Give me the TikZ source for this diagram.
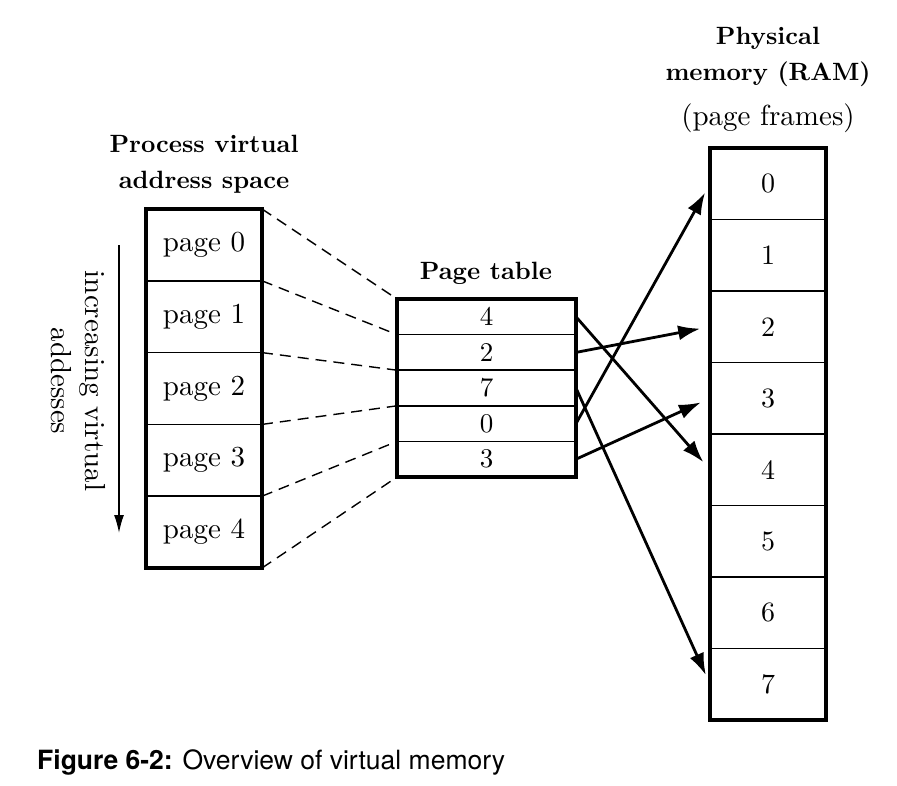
\documentclass[tikz,border=0pt]{standalone}
\usepackage{fontspec}
\setmainfont{lmroman10-regular}[Extension=.otf, BoldFont=lmroman10-bold]
\newfontfamily\capfont{TeX Gyre Heros}
\usetikzlibrary{arrows.meta}

\begin{document}
\begin{tikzpicture}[x=1pt, y=-1pt]
    \tikzstyle{every node}=[align = center, font=\fontsize{29}{34}\selectfont]
    \tikzstyle{cell}=[draw, line width=1.6pt, inner sep=0pt, outer sep=0pt]
    \tikzstyle{frame}=[line width=3.2pt]
    \tikzstyle{head}=[font=\fontsize{25}{36}\selectfont\bfseries]
    \tikzstyle{guide}=[line width=1.4pt, dash pattern=on 11pt off 7pt]
    \tikzstyle{map}=[line width=2.8pt, -{Latex[length=22pt,width=15pt]}, shorten >=10pt]
    \useasboundingbox (0,0) rectangle (897,785);
    % virtual pages
    \foreach \i in {0,...,4}
        \node[cell, minimum width=116pt, minimum height=71.8pt] (vp\i) at (204, 244.9+71.8*\i) {page \i};
    \draw[frame] (vp0.north west) rectangle (vp4.south east);
    % page table
    \foreach \v [count=\i from 0] in {4,2,7,0,3}
        \node[cell, minimum width=179pt, minimum height=35.6pt, font=\fontsize{27}{30}\selectfont] (pt\i) at (486.5, 316.8+35.6*\i) {\v};
    \draw[frame] (pt0.north west) rectangle (pt4.south east);
    % page frames
    \foreach \i in {0,...,7}
        \node[cell, minimum width=116pt, minimum height=71.5pt, font=\fontsize{28}{30}\selectfont] (ram\i) at (768, 183.75+71.5*\i) {\i};
    \draw[frame] (ram0.north west) rectangle (ram7.south east);
    % dashed guides
    \foreach \i in {0,...,4}
        \draw[guide] (vp\i.north east) -- (pt\i.north west);
    \draw[guide] (vp4.south east) -- (pt4.south west);
    % mappings
    \foreach \a/\b in {0/4,1/2,2/7,3/0,4/3}
        \draw[map] (pt\a.east) -- (ram\b.west);
    % labels
    \node[head] (vhead) at (204,164) {Process virtual\\address space};
    \node[head] (pthead) at (486,273) {Page table};
    \node[head] (ramhead) at (768,57) {Physical\\memory (RAM)};
    \node (frames) at (768,118) {(page frames)};
    \node[rotate=-90] (dir) at (78,381) {increasing virtual\\addesses};
    \coordinate (dtop) at (119,245);
    \coordinate (dbot) at (119,533);
    \draw[line width=1.5pt, -{Latex[length=18pt,width=10pt]}] (dtop) -- (dbot);
    \node[anchor=base west, inner sep=0pt, font=\capfont\fontsize{26.5}{30}\selectfont] (caption) at (37,769) {\textbf{Figure 6-2:} Overview of virtual memory};
\end{tikzpicture}
\end{document}
